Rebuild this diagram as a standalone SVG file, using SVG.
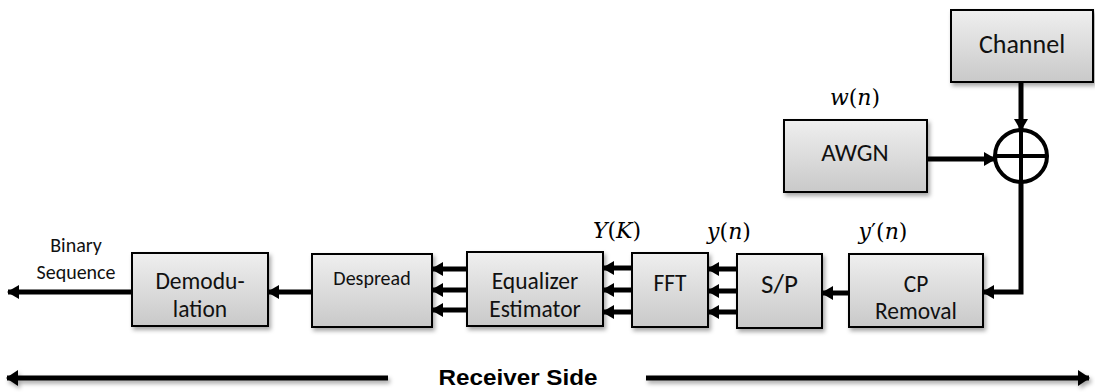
<svg xmlns="http://www.w3.org/2000/svg" width="1095" height="392" viewBox="0 0 1095 392">
  <defs>
    <linearGradient id="boxGrad" x1="0" y1="0" x2="0" y2="1">
      <stop offset="0" stop-color="#efefef"/>
      <stop offset="1" stop-color="#c9c9c9"/>
    </linearGradient>
    <filter id="shadow" x="-10%" y="-10%" width="130%" height="140%">
      <feDropShadow dx="2" dy="3" stdDeviation="2" flood-color="#000" flood-opacity="0.35"/>
    </filter>
    <filter id="lineShadow" filterUnits="userSpaceOnUse" x="0" y="360" width="1095" height="32">
      <feDropShadow dx="2" dy="3" stdDeviation="2" flood-color="#000" flood-opacity="0.35"/>
    </filter>
    <marker id="arrow" viewBox="0 0 12 14" refX="11" refY="7" markerWidth="12" markerHeight="14" markerUnits="userSpaceOnUse" orient="auto">
      <path d="M0,0 L12,7 L0,14 Z" fill="#000"/>
    </marker>
    <marker id="arrowBig" viewBox="0 0 12 16" refX="11" refY="8" markerWidth="12" markerHeight="16" markerUnits="userSpaceOnUse" orient="auto">
      <path d="M0,0 L12,8 L0,16 Z" fill="#000"/>
    </marker>
  </defs>
  <style>
    .box { fill: url(#boxGrad); stroke: #000; stroke-width: 2; filter: url(#shadow); }
    .lbl { font-family: Carlito, Lato, "Liberation Sans", sans-serif; fill: #111; text-anchor: middle; }
    .math { font-family: "DejaVu Serif", "Liberation Serif", serif; font-size: 22px; fill: #000; text-anchor: middle; }
    .it { font-style: italic; }
    .conn { stroke: #000; stroke-width: 5; fill: none; marker-end: url(#arrow); }
    .big { stroke: #000; stroke-width: 5; fill: none; marker-end: url(#arrowBig); }
  </style>

  <g id="channel">
    <rect class="box" x="951" y="10" width="142" height="72"/>
    <text class="lbl" x="1022" y="53" font-size="26">Channel</text>
  </g>
  <g id="awgn">
    <rect class="box" x="784" y="120" width="143" height="72"/>
    <text class="lbl" x="855" y="161" font-size="25">AWGN</text>
  </g>
  <g id="adder">
    <circle cx="1021" cy="156" r="26" fill="none" stroke="#000" stroke-width="4"/>
    <line x1="995" y1="156" x2="1047" y2="156" stroke="#000" stroke-width="4"/>
    <line x1="1021" y1="130" x2="1021" y2="182" stroke="#000" stroke-width="4"/>
  </g>
  <g id="cp-removal">
    <rect class="box" x="849" y="254" width="134" height="73"/>
    <text class="lbl" x="916" y="292" font-size="23.5">CP</text>
    <text class="lbl" x="916" y="319" font-size="23.5">Removal</text>
  </g>
  <g id="sp">
    <rect class="box" x="737" y="254" width="85" height="74"/>
    <text class="lbl" x="779.5" y="293" font-size="27">S/P</text>
  </g>
  <g id="fft">
    <rect class="box" x="632" y="253" width="76" height="74"/>
    <text class="lbl" x="670" y="291" font-size="23.5">FFT</text>
  </g>
  <g id="equalizer">
    <rect class="box" x="467" y="252" width="136" height="74"/>
    <text class="lbl" x="535" y="289" font-size="23.5">Equalizer</text>
    <text class="lbl" x="535" y="317" font-size="23.5">Estimator</text>
  </g>
  <g id="despread">
    <rect class="box" x="312" y="254" width="120" height="73"/>
    <text class="lbl" x="372" y="285" font-size="20">Despread</text>
  </g>
  <g id="demodulation">
    <rect class="box" x="132" y="253" width="136" height="73"/>
    <text class="lbl" x="200" y="289" font-size="23.5">Demodu-</text>
    <text class="lbl" x="200" y="317" font-size="23.5">lation</text>
  </g>

  <g id="labels">
    <text class="lbl" x="76" y="252" font-size="20">Binary</text>
    <text class="lbl" x="76" y="279" font-size="20">Sequence</text>
    <text class="math" x="855" y="105"><tspan class="it">w</tspan>(<tspan class="it">n</tspan>)</text>
    <text class="math" x="883" y="239"><tspan class="it">y</tspan>′(<tspan class="it">n</tspan>)</text>
    <text class="math" x="729" y="239"><tspan class="it">y</tspan>(<tspan class="it">n</tspan>)</text>
    <text class="math" x="617" y="238"><tspan class="it">Y</tspan>(<tspan class="it">K</tspan>)</text>
  </g>

  <g id="connectors">
    <line class="conn" x1="1021" y1="82" x2="1021" y2="130"/>
    <line class="conn" x1="927" y1="159" x2="995" y2="159"/>
    <path class="conn" d="M1021,182 L1021,292 L983,292"/>
    <line class="conn" x1="849" y1="293" x2="822" y2="293"/>
    <line class="conn" x1="737" y1="269" x2="708" y2="269"/>
    <line class="conn" x1="737" y1="291" x2="708" y2="291"/>
    <line class="conn" x1="737" y1="312" x2="708" y2="312"/>
    <line class="conn" x1="632" y1="268" x2="603" y2="268"/>
    <line class="conn" x1="632" y1="290" x2="603" y2="290"/>
    <line class="conn" x1="632" y1="312" x2="603" y2="312"/>
    <line class="conn" x1="467" y1="269" x2="432" y2="269"/>
    <line class="conn" x1="467" y1="290" x2="432" y2="290"/>
    <line class="conn" x1="467" y1="310" x2="432" y2="310"/>
    <line class="conn" x1="312" y1="292" x2="268" y2="292"/>
    <line class="conn" x1="132" y1="292" x2="8" y2="292"/>
  </g>

  <g id="receiver-side">
    <g filter="url(#lineShadow)">
      <line class="big" x1="388" y1="378" x2="7" y2="378"/>
      <line class="big" x1="646" y1="378" x2="1089" y2="378"/>
    </g>
    <text x="518" y="385" font-family="'Liberation Sans', Arial, sans-serif" font-weight="bold" font-size="22" text-anchor="middle" fill="#000" textLength="159" lengthAdjust="spacingAndGlyphs">Receiver Side</text>
  </g>
</svg>
